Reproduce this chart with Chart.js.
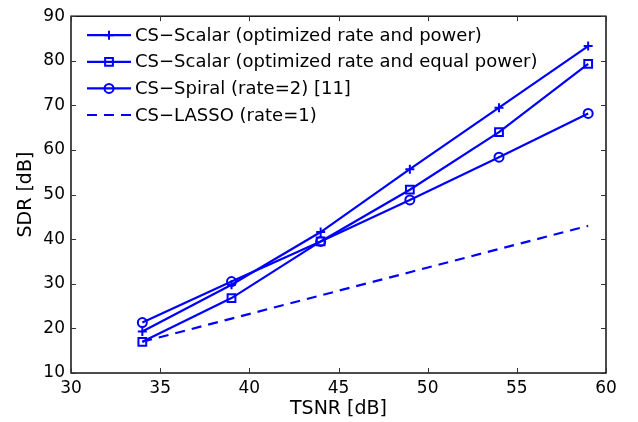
<!DOCTYPE html>
<html>
<head>
<meta charset="utf-8">
<script src="https://cdn.jsdelivr.net/npm/chart.js@4.4.1/dist/chart.umd.min.js"></script>
<style>
  html, body { margin: 0; padding: 0; background: #fff; }
  #wrap { width: 638px; height: 422px; }
</style>
</head>
<body>
<div id="wrap"><canvas id="chart" width="638" height="422"></canvas></div>
<script>
const tsnr = [34, 39, 44, 49, 54, 59];

const scalarOptPower = [19.3, 29.8, 41.6, 55.7, 69.5, 83.3];
const scalarEqualPower = [17.0, 26.8, 39.5, 51.1, 64.0, 79.3];
const spiral = [21.3, 30.5, 39.5, 48.8, 58.4, 68.2];
const lasso = [17.0, 22.2, 27.4, 32.6, 37.8, 43.0];

const seriesNames = [
    "CS\u2212Scalar (optimized rate and power)",
    "CS\u2212Scalar (optimized rate and equal power)",
    "CS\u2212Spiral (rate=2) [11]",
    "CS\u2212LASSO (rate=1)"
];

const xTicks = [30, 35, 40, 45, 50, 55, 60];
const yTicks = [10, 20, 30, 40, 50, 60, 70, 80, 90];

const blue = "#0000ff";
const fontFamily = "'DejaVu Sans', sans-serif";

function toPoints(values) {
    return tsnr.map((x, i) => ({ x: x, y: values[i] }));
}

// box round the plot with inward ticks on every side, like matlab
const boxPlugin = {
    id: "box",
    afterDraw(chart) {
        const ctx = chart.ctx;
        const area = chart.chartArea;
        const xs = chart.scales.x;
        const ys = chart.scales.y;
        const len = 5;
        ctx.save();
        ctx.strokeStyle = "#000";
        ctx.lineWidth = 1.4;
        ctx.strokeRect(area.left, area.top, area.right - area.left, area.bottom - area.top);
        ctx.strokeStyle = "#333";
        ctx.lineWidth = 1;
        ctx.beginPath();
        xTicks.forEach(v => {
            const px = Math.round(xs.getPixelForValue(v)) + 0.5;
            ctx.moveTo(px, area.bottom);
            ctx.lineTo(px, area.bottom - len);
            ctx.moveTo(px, area.top);
            ctx.lineTo(px, area.top + len);
        });
        yTicks.forEach(v => {
            const py = Math.round(ys.getPixelForValue(v)) + 0.5;
            ctx.moveTo(area.left, py);
            ctx.lineTo(area.left + len, py);
            ctx.moveTo(area.right, py);
            ctx.lineTo(area.right - len, py);
        });
        ctx.stroke();
        ctx.restore();
    }
};

// legend inside the axes, without a frame
const legendPlugin = {
    id: "insideLegend",
    afterDatasetsDraw(chart) {
        const ctx = chart.ctx;
        const area = chart.chartArea;
        const x0 = area.left + 16;
        const lineLen = 44;
        const y0 = area.top + 19;
        const rowGap = 26.6;
        ctx.save();
        chart.data.datasets.forEach((ds, i) => {
            const y = y0 + i * rowGap;
            ctx.strokeStyle = ds.borderColor;
            ctx.lineWidth = ds.borderWidth;
            ctx.setLineDash(ds.borderDash || []);
            ctx.beginPath();
            ctx.moveTo(x0, y);
            ctx.lineTo(x0 + lineLen, y);
            ctx.stroke();
            ctx.setLineDash([]);
            if (ds.pointRadius > 0) {
                ctx.strokeStyle = ds.borderColor;
                ctx.fillStyle = "rgba(0,0,0,0)";
                ctx.lineWidth = ds.pointBorderWidth;
                Chart.helpers.drawPoint(ctx, {
                    pointStyle: ds.pointStyle,
                    radius: ds.pointRadius,
                    borderWidth: ds.pointBorderWidth,
                    rotation: 0
                }, x0 + lineLen / 2, y);
            }
            ctx.fillStyle = "#000";
            ctx.font = "18px " + fontFamily;
            ctx.textBaseline = "middle";
            ctx.textAlign = "left";
            ctx.fillText(ds.label, x0 + lineLen + 4, y + 1);
        });
        ctx.restore();
    }
};

function makeDataset(label, values, style, radius, dash) {
    return {
        label: label,
        data: toPoints(values),
        borderColor: blue,
        backgroundColor: "rgba(0,0,0,0)",
        borderWidth: 2.2,
        borderDash: dash,
        pointStyle: style,
        pointRadius: radius,
        pointBorderWidth: 2,
        pointBorderColor: blue,
        pointBackgroundColor: "rgba(0,0,0,0)",
        tension: 0,
        fill: false
    };
}

const ctx = document.getElementById("chart").getContext("2d");
new Chart(ctx, {
    type: "line",
    data: {
        datasets: [
            makeDataset(seriesNames[0], scalarOptPower, "cross", 4.5, []),
            makeDataset(seriesNames[1], scalarEqualPower, "rect", 5.5, []),
            makeDataset(seriesNames[2], spiral, "circle", 4.5, []),
            makeDataset(seriesNames[3], lasso, false, 0, [10, 7])
        ]
    },
    options: {
        responsive: false,
        devicePixelRatio: 1,
        animation: false,
        layout: { padding: { top: 14, right: 32, left: 0, bottom: 0 } },
        plugins: {
            legend: { display: false },
            tooltip: { enabled: false }
        },
        scales: {
            x: {
                type: "linear",
                min: 30,
                max: 60,
                afterFit(scale) { scale.height = 49; },
                afterBuildTicks(scale) { scale.ticks = xTicks.map(v => ({ value: v })); },
                grid: { display: false, drawTicks: false },
                border: { display: false },
                ticks: {
                    color: "#000",
                    padding: 5,
                    maxRotation: 0,
                    font: { family: fontFamily, size: 17 }
                },
                title: {
                    display: true,
                    text: "TSNR [dB]",
                    color: "#000",
                    font: { family: fontFamily, size: 19 },
                    padding: { top: 0, bottom: 2 }
                }
            },
            y: {
                type: "linear",
                min: 10,
                max: 90,
                afterFit(scale) { scale.width = 71; },
                afterBuildTicks(scale) { scale.ticks = yTicks.map(v => ({ value: v })); },
                grid: { display: false, drawTicks: false },
                border: { display: false },
                ticks: {
                    color: "#000",
                    padding: 6,
                    font: { family: fontFamily, size: 17 }
                },
                title: {
                    display: true,
                    text: "SDR [dB]",
                    color: "#000",
                    font: { family: fontFamily, size: 19 },
                    padding: { top: 15, bottom: 0 }
                }
            }
        }
    },
    plugins: [boxPlugin, legendPlugin]
});
</script>
</body>
</html>
